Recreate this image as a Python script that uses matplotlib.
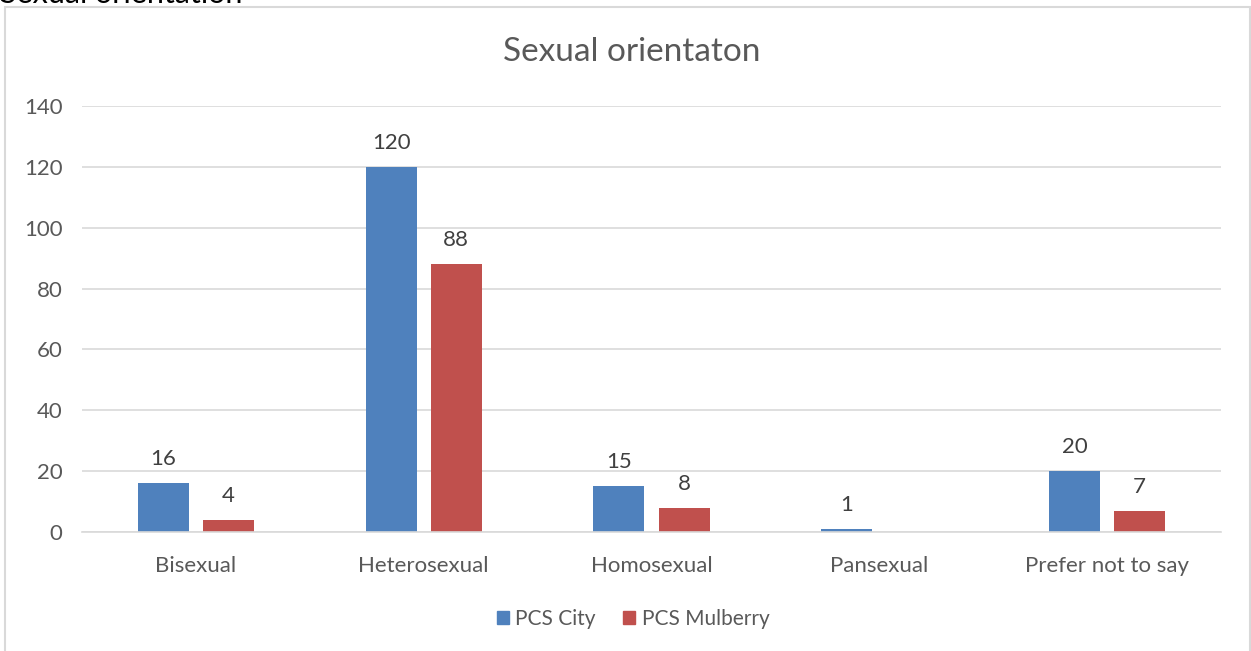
import matplotlib
matplotlib.use('Agg')
from matplotlib import pyplot as plt
from matplotlib.patches import Rectangle, Patch
import numpy as np

CATEGORIES = ['Bisexual', 'Heterosexual', 'Homosexual', 'Pansexual', 'Prefer not to say']
PCS_CITY = [16, 120, 15, 1, 20]
PCS_MULBERRY = [4, 88, 8, None, 7]
SERIES_NAMES = ['PCS City', 'PCS Mulberry']
COLORS = ['#4F81BD', '#C0504D']
TEXT_COLOR = '#595959'


def main():
    plt.rcParams['font.family'] = ['Lato', 'DejaVu Sans']
    fig = plt.figure(figsize=(12.51, 6.51), dpi=100)

    # outer frame of the chart object
    fig.patches.append(Rectangle((5 / 1251, -0.1), 1245 / 1251, 1.1 - 7 / 651,
                                 transform=fig.transFigure, fill=False,
                                 edgecolor='#D9D9D9', linewidth=1.5))
    fig.text(0.0, 1 - 3 / 651, 'Sexual orientation', fontsize=22, color='#000000',
             va='baseline', ha='left')

    ax = fig.add_axes([82 / 1251, 119 / 651, 1139 / 1251, 426 / 651])
    x = np.arange(len(CATEGORIES))
    width = 0.224
    offset = 0.143
    for i, vals in enumerate([PCS_CITY, PCS_MULBERRY]):
        pos = x + (-offset if i == 0 else offset)
        for p, v in zip(pos, vals):
            if v is None:
                continue
            ax.bar(p, v, width, color=COLORS[i])
            ax.annotate(str(v), (p, v), xytext=(0, 10), textcoords='offset points',
                        ha='center', va='bottom', fontsize=16, color='#404040')

    ax.set_xlim(-0.5, len(CATEGORIES) - 0.5)
    ax.set_ylim(0, 140)
    ax.set_yticks(range(0, 141, 20))
    ax.set_xticks(x)
    ax.set_xticklabels(CATEGORIES)
    ax.tick_params(axis='both', length=0, labelsize=16, labelcolor=TEXT_COLOR)
    ax.tick_params(axis='y', pad=14)
    ax.tick_params(axis='x', pad=17)
    ax.grid(axis='y', color='#D9D9D9', linewidth=1.2)
    ax.set_axisbelow(True)
    for s in ['top', 'right', 'left']:
        ax.spines[s].set_visible(False)
    ax.spines['bottom'].set_color('#D9D9D9')
    ax.spines['bottom'].set_linewidth(1.2)

    fig.text(0.5053, 1 - 52 / 651, 'Sexual orientaton', fontsize=24, color=TEXT_COLOR,
             ha='center', va='center')

    handles = [Patch(color=c, label=n) for c, n in zip(COLORS, SERIES_NAMES)]
    leg = ax.legend(handles=handles, loc='center', bbox_to_anchor=(633 / 1251, 1 - 619 / 651),
                    bbox_transform=fig.transFigure, ncol=2, frameon=False,
                    fontsize=15, handlelength=0.6, handleheight=0.6,
                    handletextpad=0.3, columnspacing=1.3)
    for t in leg.get_texts():
        t.set_color(TEXT_COLOR)

    fig.savefig('out.png', dpi=100)


if __name__ == '__main__':
    main()
